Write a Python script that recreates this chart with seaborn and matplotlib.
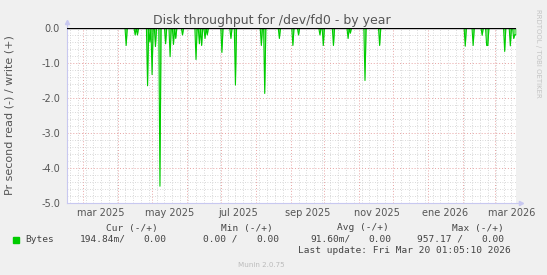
import numpy as np
import pandas as pd
import matplotlib
matplotlib.use("Agg")
import matplotlib.pyplot as plt
import matplotlib.dates as mdates
from matplotlib.ticker import MultipleLocator, NullFormatter
from matplotlib.patches import Rectangle
import seaborn as sns

# ---------------- data ----------------
read_dates = [
    "2025-04-08", "2025-04-16", "2025-04-18", "2025-04-27", "2025-04-29",
    "2025-05-01", "2025-05-04", "2025-05-08", "2025-05-13", "2025-05-17",
    "2025-05-20", "2025-05-22", "2025-05-28", "2025-06-09", "2025-06-12",
    "2025-06-14", "2025-06-17", "2025-06-19", "2025-07-02", "2025-07-10",
    "2025-07-14", "2025-08-06", "2025-08-09", "2025-08-22", "2025-09-03",
    "2025-09-08", "2025-09-27", "2025-09-30", "2025-10-09", "2025-10-22",
    "2025-10-24", "2025-11-06", "2025-11-19", "2026-02-03", "2026-02-10",
    "2026-02-18", "2026-02-22", "2026-02-23", "2026-03-10", "2026-03-15",
    "2026-03-18", "2026-03-19", "2026-03-20",
]
read_values = [
    0.50, 0.20, 0.20, 1.65, 0.40,
    1.33, 0.53, 4.52, 0.45, 0.82,
    0.47, 0.30, 0.20, 0.90, 0.45,
    0.50, 0.30, 0.20, 0.70, 0.30,
    1.63, 0.50, 1.87, 0.30, 0.50,
    0.20, 0.20, 0.50, 0.50, 0.30,
    0.15, 1.50, 0.50, 0.52, 0.50,
    0.21, 0.50, 0.50, 0.67, 0.51,
    0.30, 0.19, 0.195,
]
series_start = "2025-02-14"
series_end = "2026-03-20"

y_ticks = [0.0, -1.0, -2.0, -3.0, -4.0, -5.0]
y_tick_labels = ["0.0", "-1.0", "-2.0", "-3.0", "-4.0", "-5.0"]
x_label_months = ["2025-03-01", "2025-05-01", "2025-07-01", "2025-09-01",
                  "2025-11-01", "2026-01-01", "2026-03-01"]
x_tick_labels = ["mar 2025", "may 2025", "jul 2025", "sep 2025",
                 "nov 2025", "ene 2026", "mar 2026"]

title = "Disk throughput for /dev/fd0 - by year"
y_label = "Pr second read (-) / write (+)"
legend_headers = ["Cur (-/+)", "Min (-/+)", "Avg (-/+)", "Max (-/+)"]
legend_series = "Bytes"
legend_values = ["194.84m/", "0.00", "0.00 /", "0.00", "91.60m/", "0.00", "957.17 /", "0.00"]
last_update = "Last update: Fri Mar 20 01:05:10 2026"
footer = "Munin 2.0.75"
side_text = "RRDTOOL / TOBI OETIKER"

# ---------------- build table ----------------
days = pd.date_range(series_start, series_end, freq="D")
s = pd.Series(0.0, index=days)
s.loc[pd.to_datetime(read_dates)] = -np.array(read_values)
df = pd.DataFrame({"date": days, "value": s.values})

# ---------------- figure ----------------
sns.set_style("white")
plt.rcParams["font.family"] = ["DejaVu Sans"]

W, H = 547, 275
fig = plt.figure(figsize=(W / 100, H / 100), dpi=100, facecolor="#f0f0f0")
L, R, T, B = 67, 516, 28, 203
ax = fig.add_axes([L / W, 1 - B / H, (R - L) / W, (B - T) / H])
ax.set_facecolor("white")

green = "#00cc00"
ax.fill_between(df["date"], df["value"], 0, color=green, alpha=0.55, lw=0, zorder=3)
sns.lineplot(data=df, x="date", y="value", color=green, lw=0.8, ax=ax, zorder=4)
ax.axhline(0, color="black", lw=1.0, zorder=5)

ax.set_xlim(pd.Timestamp("2025-02-14 12:00"), pd.Timestamp("2026-03-20 01:05"))
ax.set_ylim(-5.0, 0.0)

# grids
red_grid = "#e8a4a4"
grey_grid = "#cccccc"
ax.xaxis.set_major_locator(mdates.MonthLocator())
ax.xaxis.set_minor_locator(mdates.WeekdayLocator(byweekday=mdates.MO))
ax.xaxis.set_major_formatter(NullFormatter())
ax.set_yticks(y_ticks)
ax.set_yticklabels(y_tick_labels)
ax.yaxis.set_minor_locator(MultipleLocator(0.2))

ax.grid(which="minor", color=grey_grid, ls=(0, (1, 2)), lw=0.6, zorder=0)
ax.grid(which="major", color=red_grid, ls=(0, (1, 2)), lw=0.7, zorder=1)
ax.set_axisbelow(True)

ax.tick_params(axis="x", which="major", length=2, color=red_grid, labelbottom=False)
ax.tick_params(axis="x", which="minor", length=0)
ax.tick_params(axis="y", which="major", length=2, color=red_grid, pad=3,
               labelsize=7, labelcolor="#555555")
ax.tick_params(axis="y", which="minor", length=0)
ax.set_xlabel("")
ax.set_ylabel("")

for sp in ["top", "right"]:
    ax.spines[sp].set_visible(False)
axis_col = "#c8c8f0"
for sp in ["left", "bottom"]:
    ax.spines[sp].set_color(axis_col)
    ax.spines[sp].set_linewidth(0.8)
# axis extensions with arrows
ax.plot([0, 0], [1.0, 1.03], transform=ax.transAxes, color=axis_col, lw=0.8, clip_on=False)
ax.plot([0], [1.034], marker="^", ms=3, color=axis_col, transform=ax.transAxes, clip_on=False)
ax.plot([1.0, 1.008], [0, 0], transform=ax.transAxes, color=axis_col, lw=0.8, clip_on=False)
ax.plot([1.011], [0], marker=">", ms=3, color=axis_col, transform=ax.transAxes, clip_on=False)

# x labels centred on the middle of the month
trans = ax.get_xaxis_transform()
for m, lab in zip(x_label_months, x_tick_labels):
    pos = pd.Timestamp(m) + pd.Timedelta(days=15.5)
    ax.text(pos, -(216 - B) / (B - T), lab, transform=trans, ha="center", va="baseline",
            fontsize=7, color="#555555")

# title / labels
fig.text(272 / W, 1 - 24 / H, title, ha="center", va="baseline", fontsize=9, color="#555555")
fig.text(10 / W, 1 - 115.5 / H, y_label, rotation=90, ha="center", va="center",
         fontsize=8, color="#555555")
fig.text(538 / W, 1 - 53.5 / H, side_text, rotation=270, ha="center", va="center",
         fontsize=5, color="#c4c4c4")

# legend block
mono = dict(family="DejaVu Sans Mono", fontsize=6.8, color="#444444", va="baseline", ha="left")
for x, txt in zip([106, 221, 337, 452], legend_headers):
    fig.text(x / W, 1 - 230.5 / H, txt, **mono)
fig.patches.append(Rectangle((13.3 / W, 1 - 242.7 / H), 5.4 / W, 5.4 / H,
                             transform=fig.transFigure, color=green, figure=fig))
fig.text(25 / W, 1 - 241.5 / H, legend_series, **mono)
for x, txt in zip([80, 143, 203, 256, 310, 368, 417, 481], legend_values):
    fig.text(x / W, 1 - 241.5 / H, txt, **mono)
fig.text(298 / W, 1 - 253 / H, last_update, **mono)
fig.text(261 / W, 1 - 267 / H, footer, ha="center", va="baseline", fontsize=5.1, color="#bbbbbb")

fig.savefig("out.png", dpi=100, facecolor=fig.get_facecolor())
